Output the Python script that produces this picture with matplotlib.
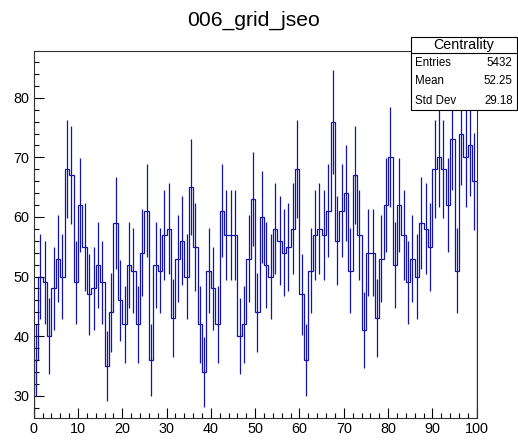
import numpy as np
import matplotlib
matplotlib.use("Agg")
import matplotlib.pyplot as plt
from matplotlib.ticker import MultipleLocator
from matplotlib.patches import Rectangle

plt.rcParams['font.family'] = ['Liberation Sans', 'DejaVu Sans']

# bin contents, 100 bins from 0 to 100
counts = [36, 50, 49, 40, 48, 53, 50, 68, 67, 49,
          62, 55, 47, 48, 52, 49, 35, 44, 59, 46,
          42, 52, 51, 42, 54, 61, 36, 52, 51, 57,
          58, 43, 53, 56, 50, 65, 55, 42, 34, 51,
          48, 42, 61, 57, 57, 57, 40, 42, 53, 63,
          44, 60, 52, 50, 58, 56, 54, 55, 58, 68,
          47, 36, 51, 57, 58, 57, 61, 76, 56, 61,
          64, 51, 67, 57, 41, 54, 54, 43, 53, 62,
          70, 52, 62, 57, 49, 53, 50, 59, 58, 55,
          68, 70, 68, 62, 73, 51, 74, 70, 72, 66]
x_min, x_max = 0, 100
stat_labels = ["Entries", "Mean", "Std Dev"]
stat_values = ["5432", "52.25", "29.18"]

LINE = "#1414aa"
W, H = 518, 442

counts = np.array(counts, dtype=float)
edges = np.linspace(x_min, x_max, len(counts) + 1)
centers = 0.5 * (edges[:-1] + edges[1:])

fig = plt.figure(figsize=(W / 100, H / 100), dpi=100, facecolor="white")
left, right, top, bottom = 33.7, 476.7, 50.7, 418.3
ax = fig.add_axes([left / W, 1 - bottom / H, (right - left) / W, (bottom - top) / H])

# step outline + sqrt(N) error bars
ax.stairs(counts, edges, color=LINE, lw=0.9)
ax.errorbar(centers, counts, yerr=np.sqrt(counts), fmt="none",
            ecolor=LINE, elinewidth=0.9, capsize=0)

ax.set_xlim(x_min, x_max)
ax.set_ylim(26.2, 87.9)

ax.xaxis.set_major_locator(MultipleLocator(10))
ax.xaxis.set_minor_locator(MultipleLocator(2))
ax.yaxis.set_major_locator(MultipleLocator(10))
ax.yaxis.set_minor_locator(MultipleLocator(2))
ax.tick_params(which="both", direction="in", top=False, right=False,
               labelsize=10.4, color="black", width=0.8)
ax.tick_params(which="major", length=7.5)
ax.tick_params(which="minor", length=3.8)
ax.tick_params(axis="both", pad=3)
for s in ax.spines.values():
    s.set_linewidth(0.8)
    s.set_color("#333333")

fig.text(0.49, 1 - 20 / H, "006_grid_jseo", ha="center", va="center", fontsize=15.2)

# stats box
bx0, bx1, by0, by1, bsep = 411.3, 516.7, 36.7, 110.0, 53.3
box = Rectangle((bx0 / W, 1 - by1 / H), (bx1 - bx0) / W, (by1 - by0) / H,
                transform=fig.transFigure, facecolor="white", edgecolor="black",
                lw=0.8, zorder=10)
fig.add_artist(box)
fig.add_artist(plt.Line2D([bx0 / W, bx1 / W], [1 - bsep / H, 1 - bsep / H],
                          transform=fig.transFigure, color="black", lw=0.8, zorder=11))
fig.text((bx0 + bx1) / 2 / W, 1 - 45 / H, "Centrality", ha="center", va="center",
         fontsize=10.3, zorder=12)
for i, (lab, val) in enumerate(zip(stat_labels, stat_values)):
    yy = 1 - (62.5 + 19 * i) / H
    fig.text((bx0 + 4) / W, yy, lab, ha="left", va="center", fontsize=8.3, zorder=12)
    fig.text((bx1 - 4) / W, yy, val, ha="right", va="center", fontsize=8.3, zorder=12)

fig.savefig("out.png", dpi=100, facecolor="white")
